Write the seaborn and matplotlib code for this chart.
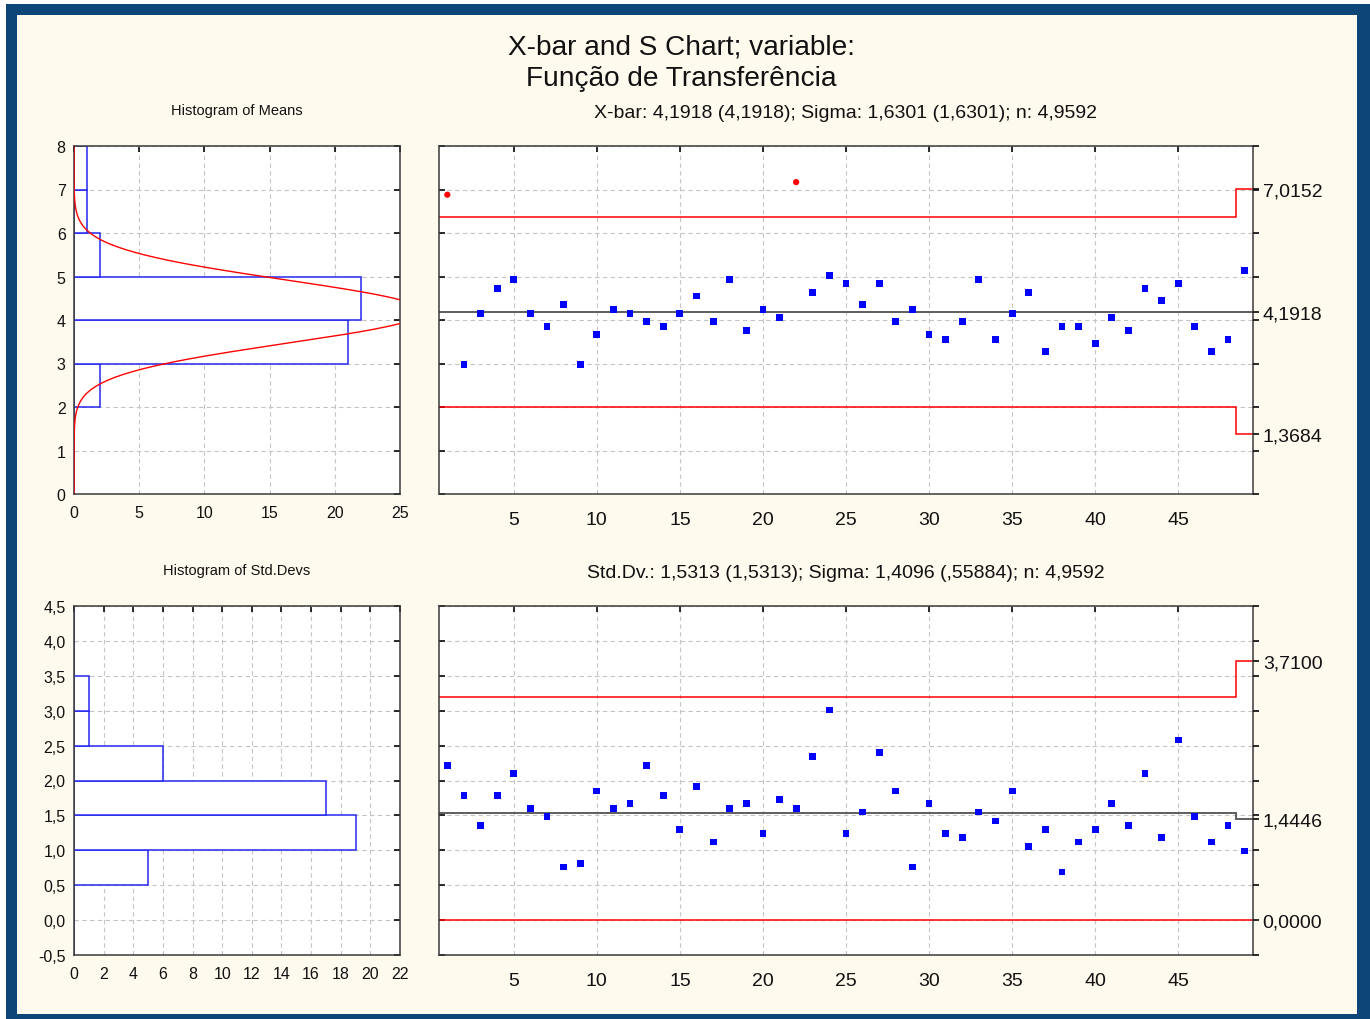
import numpy as np
import pandas as pd
import matplotlib
matplotlib.use("Agg")
import matplotlib.pyplot as plt
from matplotlib.patches import Rectangle
from matplotlib.ticker import FuncFormatter, MultipleLocator
import seaborn as sns

# ---- subgroup statistics -------------------------------------------------
sample_id = list(range(1, 50))
sample_n = [5] * 48 + [3]

means = [6.88, 2.98, 4.15, 4.73, 4.93, 4.15, 3.85, 4.35, 2.98, 3.66,
         4.25, 4.15, 3.96, 3.85, 4.15, 4.55, 3.96, 4.93, 3.75, 4.25,
         4.05, 7.17, 4.64, 5.02, 4.83, 4.35, 4.83, 3.96, 4.25, 3.66,
         3.56, 3.96, 4.93, 3.56, 4.15, 4.64, 3.28, 3.85, 3.85, 3.46,
         4.05, 3.75, 4.73, 4.44, 4.83, 3.85, 3.28, 3.56, 5.13]

stdevs = [2.22, 1.79, 1.36, 1.79, 2.10, 1.60, 1.49, 0.76, 0.81, 1.85,
          1.60, 1.67, 2.22, 1.79, 1.30, 1.91, 1.12, 1.60, 1.67, 1.24,
          1.73, 1.60, 2.34, 3.01, 1.24, 1.55, 2.40, 1.85, 0.76, 1.67,
          1.24, 1.18, 1.55, 1.42, 1.85, 1.06, 1.30, 0.69, 1.12, 1.30,
          1.67, 1.36, 2.10, 1.18, 2.58, 1.49, 1.12, 1.36, 0.99]

# process parameters
grand_mean = 4.1918
sigma = 1.6301

# control limits by subgroup size: (LCL, CL, UCL)
xbar_limits = {5: (2.0048, 4.1918, 6.3788), 3: (1.3684, 4.1918, 7.0152)}
s_limits = {5: (0.0, 1.5313, 3.2015), 3: (0.0, 1.4446, 3.7100)}

# histogram bins and frequencies
mean_bin_edges = [0, 1, 2, 3, 4, 5, 6, 7, 8]
mean_bin_counts = [0, 0, 2, 21, 22, 2, 1, 1]
sd_bin_edges = [-0.5, 0.0, 0.5, 1.0, 1.5, 2.0, 2.5, 3.0, 3.5, 4.0, 4.5]
sd_bin_counts = [0, 0, 5, 19, 17, 6, 1, 1, 0, 0]

title_text = "X-bar and S Chart; variable:\nFunção de Transferência"
xbar_header = "X-bar: 4,1918 (4,1918); Sigma: 1,6301 (1,6301); n: 4,9592"
s_header = "Std.Dv.: 1,5313 (1,5313); Sigma: 1,4096 (,55884); n: 4,9592"
hist_mean_title = "Histogram of Means"
hist_sd_title = "Histogram of Std.Devs"

# ---- style ---------------------------------------------------------------
sns.set_theme(style="white")
plt.rcParams["font.family"] = ["Liberation Sans", "DejaVu Sans"]

BG = "#FFFAEE"
FRAME = "#0C4577"
GRID = "#C4C4C4"
SPINE = "#3A3A3A"
BLUE = "#0000FF"
BAR_EDGE = "#2626F0"
RED = "#FF0000"
CENTER = "#5E5E5E"
TEXT = "#111111"


def comma(v, digits):
    return f"{v:.{digits}f}".replace(".", ",")


def style_axes(ax):
    ax.set_facecolor("white")
    ax.set_axisbelow(True)
    ax.grid(True, linestyle=(0, (4, 3)), color=GRID, linewidth=0.8)
    for sp in ax.spines.values():
        sp.set_color(SPINE)
        sp.set_linewidth(1.1)
    ax.set_xlabel("")
    ax.set_ylabel("")


fig = plt.figure(figsize=(13.7, 10.2), dpi=100, facecolor="white")
fig.patches.append(Rectangle((6 / 1370, 0), 1 - 6 / 1370, 1015 / 1020,
                             transform=fig.transFigure, facecolor=FRAME,
                             edgecolor="none", zorder=-10))
fig.patches.append(Rectangle((17 / 1370, 5 / 1020), 1340 / 1370, 999 / 1020,
                             transform=fig.transFigure, facecolor=BG,
                             edgecolor="none", zorder=-9))


def px_axes(left, top, right, bottom):
    return fig.add_axes([left / 1370, 1 - bottom / 1020,
                         (right - left) / 1370, (bottom - top) / 1020])


ax_hm = px_axes(74, 147, 400, 495)
ax_xb = px_axes(439, 147, 1253, 495)
ax_hs = px_axes(74, 607, 400, 956)
ax_sc = px_axes(439, 607, 1253, 956)


# ---- histograms ----------------------------------------------------------
def histogram(ax, edges, counts, xmax, xstep, ystep, ydigits):
    edges = [float(e) for e in edges]
    mids = [(a + b) / 2 for a, b in zip(edges[:-1], edges[1:])]
    hdf = pd.DataFrame({"mid": mids, "count": counts})
    sns.histplot(data=hdf, y="mid", weights="count", bins=edges, ax=ax,
                 color="white", edgecolor=BAR_EDGE, linewidth=1.1, alpha=1.0,
                 zorder=2)
    style_axes(ax)
    ax.set_xlim(0, xmax)
    ax.set_ylim(edges[0], edges[-1])
    ax.xaxis.set_major_locator(MultipleLocator(xstep))
    ax.yaxis.set_major_locator(MultipleLocator(ystep))
    if ydigits:
        ax.yaxis.set_major_formatter(FuncFormatter(lambda v, p: comma(v, ydigits)))
    else:
        ax.yaxis.set_major_formatter(FuncFormatter(lambda v, p: f"{v:.0f}"))
    ax.tick_params(direction="in", length=4, top=True, right=True,
                   labelsize=11.5, colors=TEXT)
    ax.tick_params(axis="x", pad=8)
    ax.tick_params(axis="y", pad=6)


histogram(ax_hm, mean_bin_edges, mean_bin_counts, 25, 5, 1, 0)
histogram(ax_hs, sd_bin_edges, sd_bin_counts, 22, 2, 0.5, 1)

# expected normal frequencies of subgroup means
yy = np.linspace(0, 8, 400)
se = sigma / np.sqrt(5)
freq = len(means) * 1.0 * np.exp(-0.5 * ((yy - grand_mean) / se) ** 2) / (se * np.sqrt(2 * np.pi))
ax_hm.plot(freq, yy, color=RED, linewidth=1.0, zorder=3)

ax_hm.text(0.5, 1 + 36 / 348, hist_mean_title, transform=ax_hm.transAxes,
           ha="center", va="center", fontsize=10.5, color=TEXT)
ax_hs.text(0.5, 1 + 36 / 349, hist_sd_title, transform=ax_hs.transAxes,
           ha="center", va="center", fontsize=10.5, color=TEXT)


# ---- control charts ------------------------------------------------------
def control_chart(ax, values, limits, ylim, ystep, header, height):
    lcl = [limits[n][0] for n in sample_n]
    cl = [limits[n][1] for n in sample_n]
    ucl = [limits[n][2] for n in sample_n]
    edges = np.arange(0.5, len(values) + 1.0, 1.0)

    ax.stairs(ucl, edges, baseline=None, color=RED, linewidth=1.1, zorder=2)
    ax.stairs(lcl, edges, baseline=None, color=RED, linewidth=1.1, zorder=2)
    ax.stairs(cl, edges, baseline=None, color=CENTER, linewidth=1.4, zorder=2)

    df = pd.DataFrame({"sample": sample_id, "value": values,
                       "lcl": lcl, "ucl": ucl})
    out = (df["value"] > df["ucl"]) | (df["value"] < df["lcl"])
    sns.scatterplot(data=df[~out], x="sample", y="value", marker="s", s=24,
                    color=BLUE, edgecolor="none", ax=ax, zorder=4)
    if out.any():
        sns.scatterplot(data=df[out], x="sample", y="value", marker="o", s=20,
                        color=RED, edgecolor="none", ax=ax, zorder=4)

    style_axes(ax)
    ax.set_xlim(0.5, len(values) + 0.5)
    ax.set_ylim(*ylim)
    ax.xaxis.set_major_locator(MultipleLocator(5))
    ax.yaxis.set_major_locator(MultipleLocator(ystep))
    ax.tick_params(direction="in", length=4, top=True, right=False,
                   labelleft=False, labelsize=14, colors=TEXT, pad=12)

    # right axis: grid ticks plus labelled limits of the last subgroup
    ax2 = ax.twinx()
    ax2.set_ylim(*ylim)
    last = list(limits[sample_n[-1]])
    grid_ticks = [t for t in np.arange(ylim[0], ylim[1] + 1e-9, ystep)
                  if all(abs(t - v) > 1e-6 for v in last)]
    ax2.set_yticks(grid_ticks + last)
    ax2.set_yticklabels([""] * len(grid_ticks) + [comma(v, 4) for v in last])
    ax2.tick_params(direction="out", length=4, labelsize=14,
                    colors=TEXT, pad=3)
    ax2.grid(False)
    for sp in ax2.spines.values():
        sp.set_visible(False)

    ax.text(0.5, 1 + 33 / height, header, transform=ax.transAxes,
            ha="center", va="center", fontsize=14, color=TEXT)


control_chart(ax_xb, means, xbar_limits, (0, 8), 1, xbar_header, 348)
control_chart(ax_sc, stdevs, s_limits, (-0.5, 4.5), 0.5, s_header, 349)

fig.text(681 / 1370, 1 - 63 / 1020, title_text, ha="center", va="center",
         fontsize=20.2, linespacing=1.3, color=TEXT)

fig.savefig("out.png", dpi=100, facecolor=fig.get_facecolor())
